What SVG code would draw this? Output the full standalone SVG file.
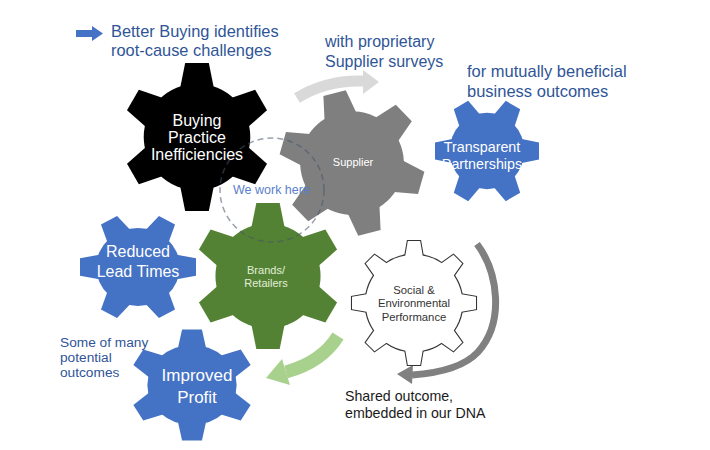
<svg xmlns="http://www.w3.org/2000/svg" width="710" height="450" viewBox="0 0 710 450">
<style>
text{font-family:"Liberation Sans",Arial,sans-serif}
.blue{fill:#2F5597}
.wt{fill:#ffffff;text-anchor:middle}
.dark{fill:#1a1a1a}
</style>
<defs>
<path id="t6" d="M-25,-55 L-16,-100 L16,-100 L25,-55 Z"/>
<g id="g6">
<circle r="72"/>
<use href="#t6"/>
<use href="#t6" transform="rotate(60)"/>
<use href="#t6" transform="rotate(120)"/>
<use href="#t6" transform="rotate(180)"/>
<use href="#t6" transform="rotate(240)"/>
<use href="#t6" transform="rotate(300)"/>
</g>
<path id="t8" d="M-16,-65 L-10,-100 L10,-100 L16,-65 Z"/>
<g id="g8">
<circle r="78"/>
<use href="#t8"/>
<use href="#t8" transform="rotate(45)"/>
<use href="#t8" transform="rotate(90)"/>
<use href="#t8" transform="rotate(135)"/>
<use href="#t8" transform="rotate(180)"/>
<use href="#t8" transform="rotate(225)"/>
<use href="#t8" transform="rotate(270)"/>
<use href="#t8" transform="rotate(315)"/>
</g>
</defs>
<rect width="710" height="450" fill="#ffffff"/>

<g id="legend">
<polygon points="76,30 92,30 92,26 103,33.5 92,41 92,37 76,37" fill="#4472C4"/>
<text class="blue" x="111" y="37" font-size="16.4">Better Buying identifies</text>
<text class="blue" x="111" y="56" font-size="16.4">root-cause challenges</text>
</g>

<g id="connectors">
<path d="M297,98 Q326,80 363,81" fill="none" stroke="#d9d9d9" stroke-width="11"/>
<polygon points="379,82 363,70 363,94" fill="#d9d9d9"/>
<path d="M477,244 C498,272 505,322 478,352 C465,366 440,373 412,375" fill="none" stroke="#808080" stroke-width="7"/>
<polygon points="397,374 413,365 412,384" fill="#808080"/>
<path d="M338,336 Q322,362 286,372" fill="none" stroke="#A9D18E" stroke-width="13"/>
<polygon points="266,378 282,359 290,385" fill="#A9D18E"/>
</g>

<g id="buying">
<use href="#g6" transform="translate(197,137) scale(0.74)" fill="#000000"/>
</g>
<g id="supplier">
<use href="#g6" transform="translate(352,163) rotate(-14) scale(0.72)" fill="#7f7f7f"/>
</g>
<g id="transparent">
<use href="#g6" transform="translate(487,151) scale(0.52,0.53) rotate(90)" fill="#4472C4"/>
</g>
<g id="reduced">
<use href="#g6" transform="translate(138,267) scale(0.58,0.54) rotate(90)" fill="#4472C4"/>
</g>
<g id="brands">
<use href="#g6" transform="translate(268,276) scale(0.73)" fill="#548235"/>
</g>
<g id="profit">
<use href="#g6" transform="translate(192,385) scale(0.62,0.555)" fill="#4472C4"/>
</g>
<g id="social">
<use href="#g8" transform="translate(414,303) scale(0.62)" fill="#ffffff" stroke="#333333" stroke-width="3.4"/>
<use href="#g8" transform="translate(414,303) scale(0.62)" fill="#ffffff" stroke="none"/>
</g>

<g id="workhere">
<circle cx="272" cy="190" r="52" fill="none" stroke="#44546A" stroke-opacity="0.55" stroke-width="1.5" stroke-dasharray="6,4"/>
<text x="233" y="194" font-size="12.5" fill="#5B7FCC">We work here</text>
</g>

<g id="labels">
<text class="wt" x="197" y="126" font-size="16">Buying</text>
<text class="wt" x="197" y="143" font-size="16">Practice</text>
<text class="wt" x="197" y="160" font-size="16">Inefficiencies</text>
<text class="wt" x="353" y="166" font-size="11">Supplier</text>
<text class="wt" x="482" y="152" font-size="14.3">Transparent</text>
<text class="wt" x="482" y="169" font-size="14.3">Partnerships</text>
<text class="wt" x="138" y="257" font-size="16">Reduced</text>
<text class="wt" x="138" y="277" font-size="16">Lead Times</text>
<text x="266" y="274" font-size="11" fill="#E2EFD9" text-anchor="middle">Brands/</text>
<text x="266" y="287" font-size="11" fill="#E2EFD9" text-anchor="middle">Retailers</text>
<text x="414" y="294" font-size="11.3" fill="#333333" text-anchor="middle">Social &amp;</text>
<text x="414" y="307" font-size="11.3" fill="#333333" text-anchor="middle">Environmental</text>
<text x="414" y="321" font-size="11.3" fill="#333333" text-anchor="middle">Performance</text>
<text class="wt" x="197" y="381" font-size="17">Improved</text>
<text class="wt" x="197" y="403" font-size="17">Profit</text>
</g>

<g id="notes">
<text class="blue" x="325" y="47" font-size="16">with proprietary</text>
<text class="blue" x="325" y="67" font-size="16">Supplier surveys</text>
<text class="blue" x="467" y="77" font-size="16.5">for mutually beneficial</text>
<text class="blue" x="467" y="97" font-size="16.5">business outcomes</text>
<text class="blue" x="60" y="347" font-size="13.7">Some of many</text>
<text class="blue" x="60" y="362" font-size="13.7">potential</text>
<text class="blue" x="60" y="377" font-size="13.7">outcomes</text>
<text class="dark" x="345" y="401" font-size="14.2">Shared outcome,</text>
<text class="dark" x="345" y="418" font-size="14.2">embedded in our DNA</text>
</g>
</svg>
